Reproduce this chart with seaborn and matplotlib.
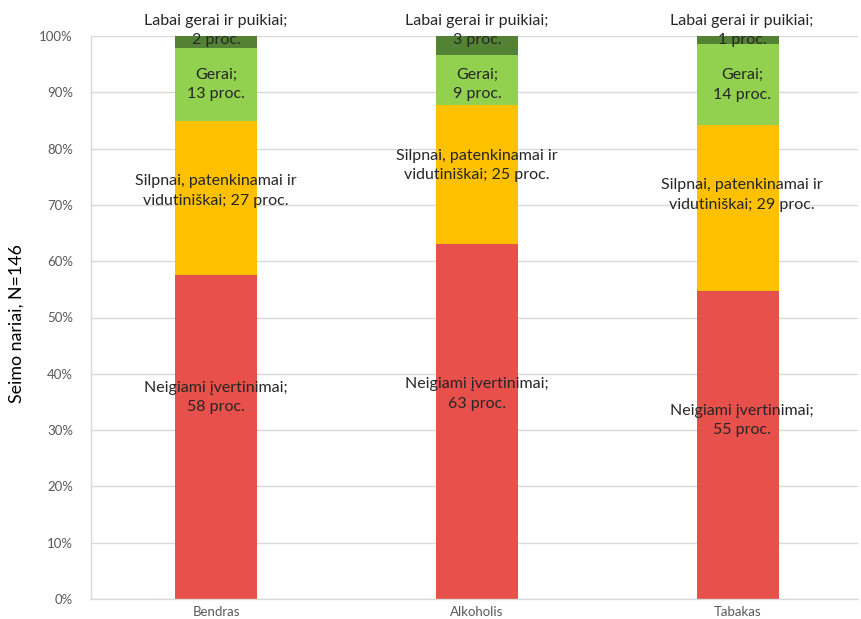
import pandas as pd
import numpy as np
import matplotlib
matplotlib.use('Agg')
import matplotlib.pyplot as plt
import seaborn as sns

# data: answers of Seimas members (counts, N=146)
groups = ['Bendras', 'Alkoholis', 'Tabakas']
levels = ['Neigiami įvertinimai', 'Silpnai, patenkinamai ir vidutiniškai',
          'Gerai', 'Labai gerai ir puikiai']
neigiami = [84, 92, 80]
silpnai = [40, 36, 43]
gerai = [19, 13, 21]
labai_gerai = [3, 5, 2]
N = 146

colors = ['#E8504B', '#FFC000', '#92D050', '#548235']

# label text (lines) and where the label sits, in axis % units
label_text = {
    'Neigiami įvertinimai': 'Neigiami įvertinimai;\n{} proc.',
    'Silpnai, patenkinamai ir vidutiniškai': 'Silpnai, patenkinamai ir\nvidutiniškai; {} proc.',
    'Gerai': 'Gerai;\n{} proc.',
    'Labai gerai ir puikiai': 'Labai gerai ir puikiai;\n{} proc.',
}
label_y = {
    'Bendras': [35.8, 72.5, 91.4, 101.0],
    'Alkoholis': [36.4, 77.0, 91.4, 101.0],
    'Tabakas': [31.7, 71.8, 91.3, 101.0],
}
label_dx = {'Bendras': 0.0, 'Alkoholis': 0.0, 'Tabakas': 0.015}

df = pd.DataFrame({'grupe': groups, levels[0]: neigiami, levels[1]: silpnai,
                   levels[2]: gerai, levels[3]: labai_gerai})
shares = df.set_index('grupe')[levels] / N * 100

sns.set_style('white')
plt.rcParams['font.family'] = ['Lato', 'DejaVu Sans']

fig = plt.figure(figsize=(8.61, 6.19), dpi=100)
ax = fig.add_axes([91 / 861, 20 / 619, 767 / 861, 563 / 619])

bottom = np.zeros(len(groups))
for lvl, col in zip(levels, colors):
    vals = shares[lvl].values
    sns.barplot(x=groups, y=vals, bottom=bottom, color=col, width=0.314,
                saturation=1, linewidth=0, edgecolor=col, ax=ax, zorder=2)
    bottom = bottom + vals

for i, g in enumerate(groups):
    for j, lvl in enumerate(levels):
        pct = int(round(shares.loc[g, lvl]))
        ax.text(i + label_dx[g], label_y[g][j], label_text[lvl].format(pct),
                ha='center', va='center', fontsize=11.5, color='#262626',
                linespacing=1.5, zorder=3)

ax.set_ylim(0, 100)
ax.set_xlim(-0.479, 2.46)
ax.set_yticks(range(0, 101, 10))
ax.set_yticklabels([f'{v}%' for v in range(0, 101, 10)])
ax.yaxis.grid(True, color='#D9D9D9', linewidth=1, zorder=0)
ax.set_axisbelow(True)
ax.tick_params(axis='y', length=4, color='#D9D9D9', labelsize=9.5,
               labelcolor='#595959', pad=9)
ax.tick_params(axis='x', length=0, labelsize=9.5, labelcolor='#595959', pad=5)
for s in ['top', 'right']:
    ax.spines[s].set_visible(False)
for s in ['left', 'bottom']:
    ax.spines[s].set_color('#D9D9D9')
    ax.spines[s].set_linewidth(1)
ax.set_xlabel('')
ax.set_ylabel('Seimo nariai, N=146', fontsize=12.8, color='#000000')
ax.yaxis.set_label_coords(-0.086, 0.49)
for t in ax.texts:
    t.set_clip_on(False)

fig.savefig('out.png', dpi=100)
